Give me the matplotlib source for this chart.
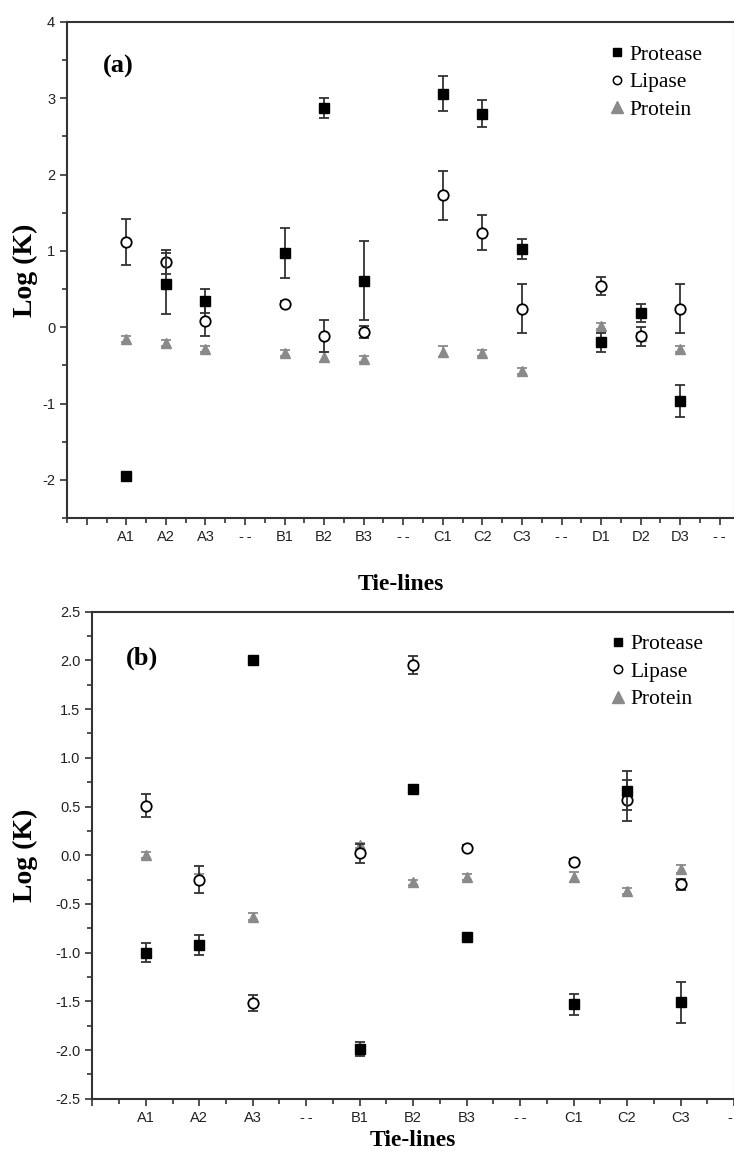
import matplotlib.pyplot as plt
from matplotlib.lines import Line2D
from matplotlib.ticker import MultipleLocator

# panel (a) tie-lines
labels_a = ['A1', 'A2', 'A3', '--', 'B1', 'B2', 'B3', '--', 'C1', 'C2', 'C3', '--', 'D1', 'D2', 'D3', '--']
protease_a = [-1.95, 0.57, 0.34, 0.97, 2.87, 0.61, 3.06, 2.80, 1.02, -0.20, 0.19, -0.97]
protease_a_err = [0.03, 0.40, 0.16, 0.33, 0.13, 0.52, 0.23, 0.18, 0.13, 0.12, 0.12, 0.21]
lipase_a = [1.12, 0.855, 0.08, 0.31, -0.12, -0.066, 1.73, 1.24, 0.24, 0.54, -0.12, 0.24]
lipase_a_err = [0.30, 0.16, 0.20, 0.03, 0.21, 0.08, 0.32, 0.23, 0.32, 0.12, 0.12, 0.32]
protein_a = [-0.15, -0.21, -0.28, -0.34, -0.39, -0.42, -0.32, -0.34, -0.57, 0.02, -0.12, -0.28]
protein_a_err = [0.04, 0.04, 0.04, 0.04, 0.06, 0.04, 0.07, 0.04, 0.04, 0.04, 0.04, 0.04]

# panel (b) tie-lines
labels_b = ['A1', 'A2', 'A3', '--', 'B1', 'B2', 'B3', '--', 'C1', 'C2', 'C3', '--']
protease_b = [-1.00, -0.92, 2.00, -1.99, 0.68, -0.84, -1.53, 0.66, -1.51]
protease_b_err = [0.10, 0.10, 0.03, 0.07, 0.03, 0.03, 0.11, 0.20, 0.21]
lipase_b = [0.51, -0.25, -1.52, 0.02, 1.95, 0.075, -0.07, 0.565, -0.30]
lipase_b_err = [0.12, 0.14, 0.08, 0.10, 0.09, 0.03, 0.03, 0.21, 0.06]
protein_b = [0.00, -0.22, -0.63, 0.10, -0.28, -0.22, -0.22, -0.37, -0.14]
protein_b_err = [0.03, 0.03, 0.04, 0.03, 0.03, 0.03, 0.05, 0.03, 0.04]

SANS = 'Liberation Sans'
SERIF = 'Liberation Serif'
GREY = '#8a8a8a'

fig = plt.figure(figsize=(7.34, 11.68), dpi=100)
ax_a = fig.add_axes([0.0913, 0.5565, 0.9087, 0.4247])
ax_b = fig.add_axes([0.1258, 0.0593, 0.8742, 0.4170])


def draw(ax, labels, prot, prot_e, lip, lip_e, pro, pro_e, leg_x):
    xs = [i + 1 for i, l in enumerate(labels) if l != '--']
    kw = dict(linestyle='none', capsize=3.5, elinewidth=1.3, capthick=1.3)
    ax.errorbar(xs, pro, yerr=pro_e, fmt='^', ms=7.5, color=GREY, ecolor=GREY, zorder=2, **kw)
    ax.errorbar(xs, lip, yerr=lip_e, fmt='o', ms=7.5, mfc='white', mec='black', mew=1.3,
                ecolor='#333333', zorder=3, **kw)
    ax.errorbar(xs, prot, yerr=prot_e, fmt='s', ms=7, color='black', ecolor='#333333',
                zorder=4, **kw)
    shown = [l.replace('--', '-\u2009-') for l in labels]
    ax.set_xticks(range(0, len(labels) + 1))
    ax.set_xticklabels([''] + shown, fontfamily=SANS, fontsize=10.5, color='#222222')
    ax.xaxis.set_minor_locator(MultipleLocator(0.5))
    ax.tick_params(axis='both', which='major', direction='out', length=5, width=1.2,
                   labelsize=10.5, colors='#333333', labelcolor='#222222')
    ax.tick_params(axis='both', which='minor', direction='out', length=3.5, width=1.2,
                   colors='#333333')
    for s in ax.spines.values():
        s.set_linewidth(1.5)
        s.set_edgecolor('#333333')
    ax.spines['right'].set_linewidth(1.0)
    ax.spines['right'].set_edgecolor('#dddddd')
    ax.set_ylabel('Log (K)', fontfamily=SERIF, fontweight='bold', fontsize=20)
    handles = [Line2D([], [], ls='none', marker='s', ms=6, color='black'),
               Line2D([], [], ls='none', marker='o', ms=6, mfc='white', mec='black', mew=1.1),
               Line2D([], [], ls='none', marker='^', ms=8, color=GREY)]
    ax.legend(handles, ['Protease', 'Lipase', 'Protein'], loc='upper left',
              bbox_to_anchor=(leg_x, 0.985), frameon=False, handlelength=0.6,
              handletextpad=0.3, labelspacing=0.35, borderpad=0.2,
              prop={'family': SERIF, 'size': 15.5})


draw(ax_a, labels_a, protease_a, protease_a_err, lipase_a, lipase_a_err,
     protein_a, protein_a_err, 0.792)
ax_a.set_xlim(-0.5, 16.36)
ax_a.set_ylim(-2.5, 4)
ax_a.set_yticks([-2, -1, 0, 1, 2, 3, 4])
ax_a.set_yticklabels(['-2', '-1', '0', '1', '2', '3', '4'], fontfamily=SANS)
ax_a.yaxis.set_minor_locator(MultipleLocator(0.5))
ax_a.yaxis.set_label_coords(-0.044, 0.5)
ax_a.set_xlabel('Tie-lines', fontfamily=SERIF, fontweight='bold', fontsize=17, labelpad=22)
ax_a.text(0.077, 0.911, '(a)', transform=ax_a.transAxes, ha='center', va='center',
          fontfamily=SERIF, fontweight='bold', fontsize=19)

draw(ax_b, labels_b, protease_b, protease_b_err, lipase_b, lipase_b_err,
     protein_b, protein_b_err, 0.785)
ax_b.set_xlim(0, 12.0)
ax_b.set_ylim(-2.5, 2.5)
ticks_b = [-2.5, -2.0, -1.5, -1.0, -0.5, 0.0, 0.5, 1.0, 1.5, 2.0, 2.5]
ax_b.set_yticks(ticks_b)
ax_b.set_yticklabels(['%.1f' % t for t in ticks_b], fontfamily=SANS)
ax_b.yaxis.set_minor_locator(MultipleLocator(0.25))
ax_b.yaxis.set_label_coords(-0.085, 0.5)
ax_b.set_xlabel('Tie-lines', fontfamily=SERIF, fontweight='bold', fontsize=17, labelpad=4)
ax_b.text(0.078, 0.905, '(b)', transform=ax_b.transAxes, ha='center', va='center',
          fontfamily=SERIF, fontweight='bold', fontsize=19)

fig.savefig('out.png', dpi=100)
